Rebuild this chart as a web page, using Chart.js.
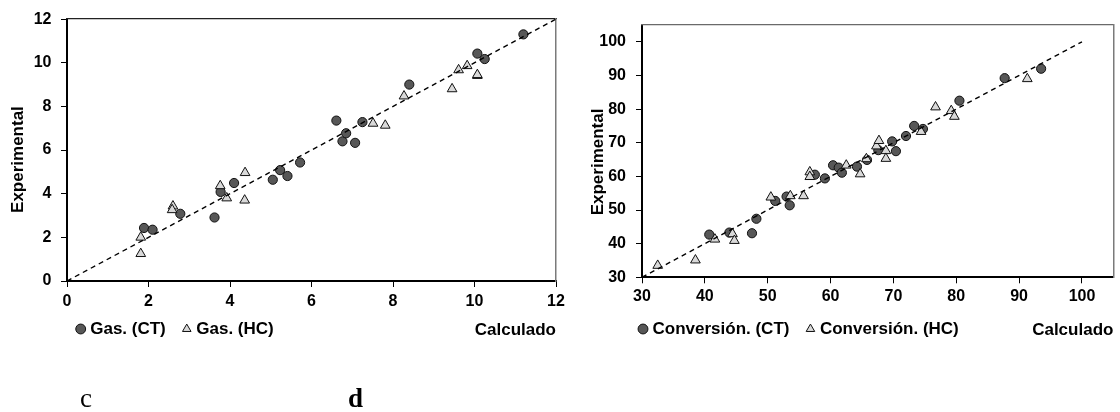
<!DOCTYPE html>
<html lang="es">
<head>
<meta charset="utf-8">
<title>Experimental vs calculado</title>
<script src="https://cdn.jsdelivr.net/npm/chart.js@4.4.1/dist/chart.umd.min.js"></script>
<style>
  body { margin: 0; background: #fff; }
  #panel { position: relative; width: 1120px; height: 412px; }
  #panel canvas { position: absolute; top: 0; }
  .letra { position: absolute; top: 385px; font: 27px "Liberation Serif", "Times New Roman", serif; line-height: 27px; color: #000; }
</style>
</head>
<body>
<div id="panel">
  <canvas id="graficoGas" width="575" height="412" style="left:0"></canvas>
  <canvas id="graficoConversion" width="545" height="412" style="left:575px"></canvas>
  <div class="letra" style="left:80px">c</div>
  <div class="letra" style="left:348px;font-weight:bold">d</div>
</div>
<script>
// Gasolina: calculado (x) vs experimental (y)
const gasCalcCT = [1.89, 2.10, 2.78, 3.62, 3.77, 4.10, 5.05, 5.23, 5.41, 5.72, 6.61, 6.76, 6.85, 7.07, 7.25, 8.40, 10.07, 10.25, 11.20];
const gasExpCT  = [2.43, 2.35, 3.08, 2.91, 4.08, 4.49, 4.64, 5.08, 4.81, 5.43, 7.35, 6.40, 6.77, 6.33, 7.28, 9.00, 10.42, 10.17, 11.30];
const gasCalcHC = [1.81, 1.81, 2.60, 2.58, 3.76, 3.92, 4.37, 4.36, 7.51, 7.81, 8.27, 9.45, 9.61, 9.82, 10.07, 10.07];
const gasExpHC  = [2.00, 1.25, 3.43, 3.26, 4.36, 3.80, 4.96, 3.70, 7.22, 7.13, 8.47, 8.80, 9.67, 9.86, 9.41, 9.45];
const gasDiagonal = [0, 12];
const gasMarcas = [0, 2, 4, 6, 8, 10, 12];

// Conversión: calculado (x) vs experimental (y)
const convCalcCT = [40.7, 43.9, 47.5, 48.2, 51.2, 53.0, 53.5, 57.5, 59.1, 60.4, 61.3, 61.8, 64.2, 65.8, 67.6, 69.8, 70.4, 72.0, 73.3, 74.7, 80.5, 87.7, 93.5];
const convExpCT  = [42.7, 43.3, 43.1, 47.4, 52.7, 54.0, 51.4, 60.5, 59.4, 63.3, 62.6, 61.1, 62.9, 64.9, 67.8, 70.4, 67.5, 72.0, 75.0, 74.1, 82.5, 89.2, 92.0];
const convCalcHC = [32.5, 38.5, 41.6, 44.4, 44.7, 50.5, 53.6, 55.7, 56.7, 56.7, 62.5, 64.7, 65.7, 67.3, 67.7, 68.8, 68.8, 74.4, 76.7, 79.2, 79.7, 91.3];
const convExpHC  = [33.5, 35.1, 41.3, 42.9, 40.9, 53.8, 54.2, 54.2, 61.3, 59.9, 63.3, 60.7, 65.2, 69.0, 70.6, 67.6, 65.3, 73.3, 80.6, 79.5, 77.8, 89.0];
const convDiagonal = [30, 100];
const convMarcas = [30, 40, 50, 60, 70, 80, 90, 100];

Chart.defaults.font.family = '"Liberation Sans", Arial, sans-serif';
Chart.defaults.color = '#000';

const fuenteMarcas = { size: 16, weight: 'bold' };
const fuenteTitulo = { size: 17, weight: 'bold' };

function aPuntos(xs, ys) {
  return xs.map((x, i) => ({ x: x, y: ys[i] }));
}

// Coloca la leyenda en la fila de "Calculado" y baja el título del eje Y
const posicionarExtras = {
  id: 'posicionarExtras',
  afterLayout(chart, args, opts) {
    const leyenda = chart.legend;
    leyenda.left = opts.leyendaX;
    leyenda.right = leyenda.left + leyenda.width;
    leyenda.top = opts.leyendaY;
    leyenda.bottom = leyenda.top + 40;

    const ejeY = chart.scales.y;
    const dibujar = Object.getPrototypeOf(ejeY).drawTitle;
    const d = opts.bajarTituloY;
    ejeY.drawTitle = function () {
      this.top += d; this.bottom += d;
      dibujar.call(this);
      this.top -= d; this.bottom -= d;
    };
  }
};

function ejeMarco(posicion, min, max, color, ancho) {
  return {
    type: 'linear', position: posicion, min: min, max: max,
    ticks: { display: false },
    grid: { display: false },
    border: { color: color, width: ancho },
    afterFit: (s) => { if (posicion === 'top') s.height = 0; else s.width = 0; }
  };
}

function crearDispersion(canvasId, cfg) {
  const ctx = document.getElementById(canvasId).getContext('2d');
  return new Chart(ctx, {
    type: 'scatter',
    data: {
      datasets: [{
        label: cfg.serieCT,
        data: aPuntos(cfg.calcCT, cfg.expCT),
        pointStyle: 'circle', pointRadius: 4.6,
        backgroundColor: '#575757', borderColor: '#111', borderWidth: 1,
        order: 2
      }, {
        label: cfg.serieHC,
        data: aPuntos(cfg.calcHC, cfg.expHC),
        pointStyle: 'triangle', pointRadius: 5.6,
        backgroundColor: '#d9d9d9', borderColor: '#111', borderWidth: 1,
        order: 1
      }, {
        type: 'line',
        label: '',
        data: aPuntos(cfg.diagonal, cfg.diagonal),
        borderColor: '#000', borderWidth: 1.4, borderDash: [5, 4],
        pointRadius: 0, fill: false,
        order: 0
      }]
    },
    options: {
      responsive: false,
      animation: false,
      events: [],
      layout: { padding: cfg.relleno },
      scales: {
        x: {
          type: 'linear', min: cfg.min, max: cfg.max,
          afterBuildTicks: (s) => { s.ticks = cfg.marcas.map(v => ({ value: v })); },
          afterFit: (s) => { s.height = cfg.altoEjeX; },
          ticks: { font: fuenteMarcas, padding: cfg.sepMarcasX },
          grid: { drawOnChartArea: false, tickLength: 6, tickColor: '#000', tickWidth: 1 },
          border: { color: '#000', width: 2 },
          title: { display: true, text: 'Calculado', align: 'end', font: fuenteTitulo, padding: 0 }
        },
        y: {
          type: 'linear', min: cfg.min, max: cfg.max,
          afterBuildTicks: (s) => { s.ticks = cfg.marcas.map(v => ({ value: v })); },
          afterFit: (s) => { s.width = 67; },
          ticks: { font: fuenteMarcas, padding: cfg.sepMarcasY },
          grid: { drawOnChartArea: false, tickLength: 6, tickColor: '#000', tickWidth: 1 },
          border: { color: '#000', width: 2 },
          title: { display: true, text: 'Experimental', font: fuenteTitulo, padding: { top: cfg.sepTituloY, bottom: 0 } }
        },
        x2: ejeMarco('top', cfg.min, cfg.max, cfg.colorArriba, 1.3),
        y2: ejeMarco('right', cfg.min, cfg.max, '#7a7a7a', 1.5)
      },
      plugins: {
        tooltip: { enabled: false },
        legend: {
          position: 'bottom',
          align: 'start',
          maxHeight: 1,
          labels: {
            usePointStyle: true,
            boxWidth: 2,
            boxHeight: 7,
            padding: 20,
            font: fuenteTitulo,
            filter: (item) => item.text !== '',
            sort: (a, b) => a.datasetIndex - b.datasetIndex
          }
        },
        posicionarExtras: cfg.extras
      }
    },
    plugins: [posicionarExtras]
  });
}

crearDispersion('graficoGas', {
  serieCT: 'Gas. (CT)', serieHC: 'Gas. (HC)',
  calcCT: gasCalcCT, expCT: gasExpCT, calcHC: gasCalcHC, expHC: gasExpHC,
  diagonal: gasDiagonal, marcas: gasMarcas,
  min: 0, max: 12,
  relleno: { top: 17, left: 0, right: 19, bottom: 70.8 },
  altoEjeX: 59.2, sepMarcasX: 5.4, sepMarcasY: 9.5, sepTituloY: 8.3,
  colorArriba: '#222',
  extras: { leyendaX: 59.7, leyendaY: 300.5, bajarTituloY: 9.5 }
});

crearDispersion('graficoConversion', {
  serieCT: 'Conversión. (CT)', serieHC: 'Conversión. (HC)',
  calcCT: convCalcCT, expCT: convExpCT, calcHC: convCalcHC, expHC: convExpHC,
  diagonal: convDiagonal, marcas: convMarcas,
  min: 30, max: 105,
  relleno: { top: 25, left: 0, right: 1, bottom: 70.8 },
  altoEjeX: 62.9, sepMarcasX: 4.1, sepMarcasY: 10, sepTituloY: 12.8,
  colorArriba: '#6a6a6a',
  extras: { leyendaX: 47, leyendaY: 300.5, bajarTituloY: 10.8 }
});
</script>
</body>
</html>
